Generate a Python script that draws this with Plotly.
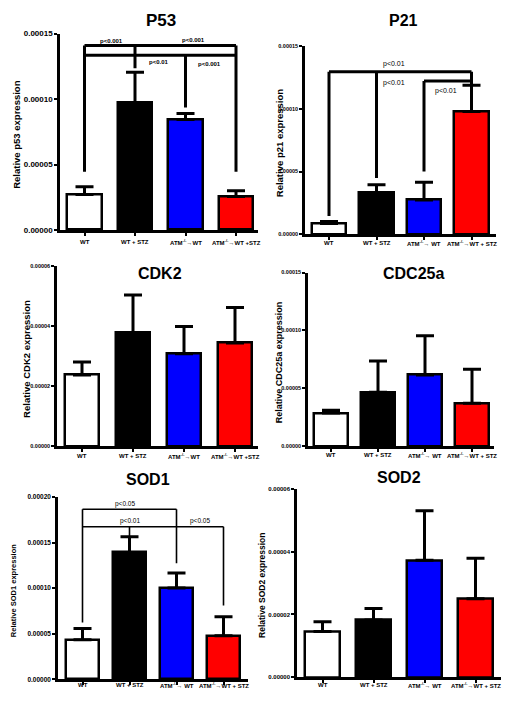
import plotly.graph_objects as go

# ---------------- data ----------------
colors = ["#ffffff", "#000000", "#0000ff", "#ff0000"]
labels_a = ["WT", "WT + STZ", "ATM<sup>-/-</sup>→WT", "ATM<sup>-/-</sup>→WT +STZ"]
labels_b = ["WT", "WT + STZ", "ATM<sup>-/-</sup>→ WT", "ATM<sup>-/-</sup>→WT + STZ"]

p53_mean = [2.71e-5, 9.72e-5, 8.44e-5, 2.56e-5]
p53_sem = [0.60e-5, 2.34e-5, 0.46e-5, 0.44e-5]
p21_mean = [0.84e-5, 3.29e-5, 2.73e-5, 9.79e-5]
p21_sem = [0.16e-5, 0.66e-5, 1.42e-5, 2.11e-5]
cdk2_mean = [2.37e-5, 3.76e-5, 3.07e-5, 3.43e-5]
cdk2_sem = [0.43e-5, 1.26e-5, 0.91e-5, 1.18e-5]
cdc25a_mean = [2.87e-5, 4.66e-5, 6.16e-5, 3.72e-5]
cdc25a_sem = [0.25e-5, 2.70e-5, 3.39e-5, 2.93e-5]
sod1_mean = [4.35e-5, 13.91e-5, 10.03e-5, 4.78e-5]
sod1_sem = [1.23e-5, 1.74e-5, 1.63e-5, 2.07e-5]
sod2_mean = [1.46e-5, 1.82e-5, 3.72e-5, 2.50e-5]
sod2_sem = [0.31e-5, 0.37e-5, 1.58e-5, 1.29e-5]

# significance brackets: (x0, y0, x1, y1) in data units
p53_brackets = [(0, 1.41e-4, 3, 1.41e-4), (0, 1.335e-4, 3, 1.335e-4),
                (0, 1.41e-4, 0, 4.45e-5), (3, 1.41e-4, 3, 4.45e-5),
                (1, 1.41e-4, 1, 1.236e-4), (2, 1.335e-4, 2, 9.35e-5)]
p53_ptext = [(0.54, 1.445e-4, "p<0.001"), (2.15, 1.455e-4, "p<0.001"),
             (1.48, 1.285e-4, "p<0.01"), (2.47, 1.266e-4, "p<0.001")]
p21_brackets = [(0, 1.298e-4, 3, 1.298e-4), (0, 1.298e-4, 0, 1.45e-5),
                (1, 1.298e-4, 1, 4.47e-5), (3, 1.298e-4, 3, 1.19e-4),
                (2, 1.224e-4, 3, 1.224e-4), (2, 1.224e-4, 2, 5.0e-5)]
p21_ptext = [(1.37, 1.361e-4, "p<0.01"), (1.37, 1.211e-4, "p<0.01"),
             (2.46, 1.14e-4, "p<0.01")]
sod1_brackets = [(0, 1.866e-4, 2, 1.866e-4), (0, 1.866e-4, 0, 6.23e-5),
                 (2, 1.866e-4, 2, 1.275e-4), (0, 1.674e-4, 3, 1.674e-4),
                 (3, 1.674e-4, 3, 8.1e-5), (1, 1.674e-4, 1, 1.565e-4)]
sod1_ptext = [(0.9, 1.92e-4, "p<0.05"), (1.0, 1.736e-4, "p<0.01"),
              (2.5, 1.736e-4, "p<0.05")]

W, H = 512, 704
FONT = "Liberation Sans"

panels = [
    dict(title="P53", mean=p53_mean, sem=p53_sem, ymax=1.5e-4, dtick=5e-5,
         ylabel="Relative p53 expression", labels=labels_a,
         ax=60, c0=84.5, s=50.5, xr=258, yt=30, yb=229, bw=0.69, xl_y=241,
         tick_size=8, lab_size=9.5, lab_x=17, title_xy=(161, 17), title_size=17,
         brackets=p53_brackets, ptext=p53_ptext, blw=3, psize=6, pbold=True),
    dict(title="P21", mean=p21_mean, sem=p21_sem, ymax=1.5e-4, dtick=5e-5,
         ylabel="Relative p21 expression", labels=labels_b,
         ax=305, c0=329, s=47.5, xr=496, yt=43, yb=233, bw=0.72, xl_y=242,
         tick_size=5.5, lab_size=9.5, lab_x=279, title_xy=(403, 17), title_size=16,
         brackets=p21_brackets, ptext=p21_ptext, blw=3, psize=7, pbold=False),
    dict(title="CDK2", mean=cdk2_mean, sem=cdk2_sem, ymax=6e-5, dtick=2e-5,
         ylabel="Relative CDK2 expression", labels=labels_a,
         ax=57, c0=82, s=51, xr=258, yt=265, yb=448, bw=0.67, xl_y=458,
         tick_size=5.5, lab_size=9.5, lab_x=27, title_xy=(160, 273), title_size=16,
         brackets=[], ptext=[], blw=3, psize=6, pbold=False),
    dict(title="CDC25a", mean=cdc25a_mean, sem=cdc25a_sem, ymax=1.5e-4, dtick=5e-5,
         ylabel="Relative CDC25a expression", labels=labels_b,
         ax=308, c0=331, s=47, xr=494, yt=272, yb=448, bw=0.72, xl_y=457,
         tick_size=5.5, lab_size=9, lab_x=279, title_xy=(413, 273), title_size=16,
         brackets=[], ptext=[], blw=3, psize=6, pbold=False),
    dict(title="SOD1", mean=sod1_mean, sem=sod1_sem, ymax=2e-4, dtick=5e-5,
         ylabel="Relative SOD1 expression", labels=labels_b,
         ax=58, c0=82.5, s=47, xr=248, yt=499.5, yb=684, bw=0.71, xl_y=690,
         tick_size=6.5, lab_size=7.5, lab_x=13, title_xy=(148, 482), title_size=16,
         brackets=sod1_brackets, ptext=sod1_ptext, blw=1.6, psize=6.5, pbold=False),
    dict(title="SOD2", mean=sod2_mean, sem=sod2_sem, ymax=6e-5, dtick=2e-5,
         ylabel="Relative SOD2 expression", labels=labels_b,
         ax=297, c0=322.5, s=51, xr=501, yt=491, yb=682, bw=0.69, xl_y=690,
         tick_size=6, lab_size=8.5, lab_x=262, title_xy=(399, 480), title_size=16,
         brackets=[], ptext=[], blw=3, psize=6, pbold=False),
]

fig = go.Figure()
shapes, annotations = [], []
layout = {}

def px(x):
    return x / W

def py(y):
    return 1 - y / H

for i, p in enumerate(panels, start=1):
    xa = "x" if i == 1 else f"x{i}"
    ya = "y" if i == 1 else f"y{i}"
    xkey = "xaxis" if i == 1 else f"xaxis{i}"
    ykey = "yaxis" if i == 1 else f"yaxis{i}"
    fig.add_trace(go.Bar(
        x=[0, 1, 2, 3], y=p["mean"], width=p["bw"],
        marker=dict(color=colors, line=dict(color="black", width=2.5)),
        error_y=dict(type="data", array=p["sem"], arrayminus=[0, 0, 0, 0],
                     symmetric=False, color="black", thickness=3, width=9),
        xaxis=xa, yaxis=ya, showlegend=False, cliponaxis=False,
        hoverinfo="skip"))
    xr0 = (p["ax"] - p["c0"]) / p["s"]
    xr1 = (p["xr"] - p["c0"]) / p["s"]
    layout[xkey] = dict(
        domain=[px(p["ax"]), px(p["xr"])], range=[xr0, xr1], anchor=ya,
        tickvals=[0, 1, 2, 3], showticklabels=False, showgrid=False,
        zeroline=False, showline=True, linecolor="black", linewidth=2.5,
        ticks="outside", ticklen=3, tickwidth=2, tickcolor="black",
        fixedrange=True)
    nt = int(round(p["ymax"] / p["dtick"]))
    tv = [k * p["dtick"] for k in range(nt + 1)]
    layout[ykey] = dict(
        domain=[py(p["yb"]), py(p["yt"])], range=[0, p["ymax"]], anchor=xa,
        tickvals=tv, tickformat=".5f", showgrid=False, zeroline=False,
        showline=True, linecolor="black", linewidth=2.5,
        ticks="outside", ticklen=3, tickwidth=2, tickcolor="black", tickangle=0,
        tickfont=dict(family=FONT, size=p["tick_size"], color="black", weight="bold"),
        fixedrange=True)
    # category labels under the x axis
    for k, lab in enumerate(p["labels"]):
        annotations.append(dict(
            text=lab, x=k, y=py(p["xl_y"]), xref=xa, yref="paper",
            showarrow=False, xanchor="center", yanchor="middle",
            font=dict(family=FONT, size=6, color="black", weight="bold")))
    annotations.append(dict(
        text=p["title"], x=px(p["title_xy"][0]), y=py(p["title_xy"][1]),
        xref="paper", yref="paper", showarrow=False, xanchor="center", yanchor="middle",
        font=dict(family=FONT, size=p["title_size"], color="black", weight="bold")))
    annotations.append(dict(
        text=p["ylabel"], x=px(p["lab_x"]), y=py((p["yt"] + p["yb"]) / 2 + 3),
        xref="paper", yref="paper", showarrow=False, textangle=-90,
        xanchor="center", yanchor="middle",
        font=dict(family=FONT, size=p["lab_size"], color="black", weight="bold")))
    for (x0, y0, x1, y1) in p["brackets"]:
        shapes.append(dict(type="line", xref=xa, yref=ya, x0=x0, y0=y0, x1=x1, y1=y1,
                           line=dict(color="black", width=p["blw"])))
    for (x, y, t) in p["ptext"]:
        annotations.append(dict(
            text=t, x=x, y=y, xref=xa, yref=ya, showarrow=False,
            xanchor="center", yanchor="middle",
            font=dict(family=FONT, size=p["psize"], color="black",
                      weight="bold" if p["pbold"] else "normal")))

fig.update_layout(
    width=W, height=H, margin=dict(l=0, r=0, t=0, b=0),
    paper_bgcolor="white", plot_bgcolor="white",
    shapes=shapes, annotations=annotations, bargap=0, **layout)

fig.write_html("out.html", config={"displayModeBar": False},
               post_script="document.body.style.margin='0px';document.body.style.overflow='hidden';")
